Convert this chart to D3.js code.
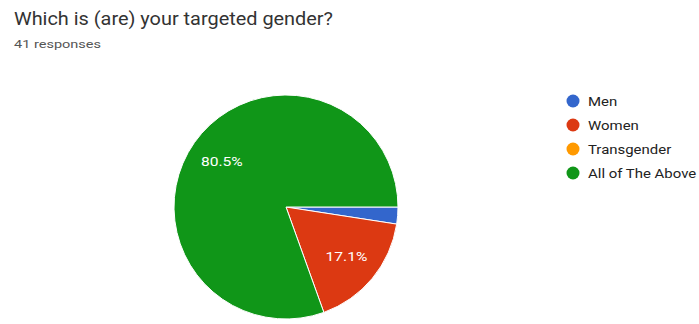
<!DOCTYPE html>
<html>
<head>
<meta charset="utf-8">
<script src="https://cdn.jsdelivr.net/npm/d3@7"></script>
<style>
  html, body { margin: 0; padding: 0; background: #fff; }
  svg { display: block; font-family: Roboto, Arial, sans-serif; }
</style>
</head>
<body>
<svg id="chart" width="699" height="324"></svg>
<script>
const categories = ["Men", "Women", "Transgender", "All of The Above"];
const counts = [1, 7, 0, 33];
const colors = ["#3366cc", "#dc3912", "#ff9900", "#109618"];
const title = "Which is (are) your targeted gender?";
const subtitle = "41 responses";

const svg = d3.select("#chart");
const total = d3.sum(counts);

svg.append("text").attr("x", 14).attr("y", 25)
  .attr("font-size", 17.5).attr("fill", "#333")
  .attr("textLength", 319).attr("lengthAdjust", "spacingAndGlyphs")
  .text(title);
svg.append("text").attr("x", 14).attr("y", 48)
  .attr("font-size", 10.5).attr("fill", "#555")
  .attr("textLength", 87).attr("lengthAdjust", "spacingAndGlyphs")
  .text(subtitle);

const cx = 286, cy = 207, r = 112;
const data = categories.map((c, i) => ({ name: c, value: counts[i], color: colors[i] }));

const pie = d3.pie().value(d => d.value).sort(null)
  .startAngle(Math.PI / 2).endAngle(Math.PI / 2 + 2 * Math.PI);
const arcs = pie(data);
const arc = d3.arc().innerRadius(0).outerRadius(r);
const labelArc = d3.arc().innerRadius(r * 0.7).outerRadius(r * 0.7);

const g = svg.append("g").attr("transform", `translate(${cx},${cy})`);
g.selectAll("path").data(arcs.filter(a => a.data.value > 0)).join("path")
  .attr("d", arc).attr("fill", d => d.data.color)
  .attr("stroke", "#fff").attr("stroke-width", 1);

// percentage labels, slightly widened to the form's label style
g.selectAll("text.pct").data(arcs.filter(a => a.data.value / total > 0.05)).join("text")
  .attr("class", "pct")
  .attr("transform", d => `translate(${labelArc.centroid(d)}) scale(1.3,1)`)
  .attr("text-anchor", "middle").attr("dy", "0.35em")
  .attr("font-size", 12).attr("fill", "#fff")
  .text(d => (d.data.value / total * 100).toFixed(1) + "%");

const legend = svg.append("g").attr("transform", "translate(573,101)");
const items = legend.selectAll("g").data(data).join("g")
  .attr("transform", (d, i) => `translate(0,${i * 24})`);
items.append("circle").attr("r", 6.5).attr("fill", d => d.color);
items.append("text").attr("transform", "translate(15,0) scale(1.15,1)").attr("dy", "0.35em")
  .attr("font-size", 13).attr("fill", "#222").text(d => d.name);
</script>
</body>
</html>
